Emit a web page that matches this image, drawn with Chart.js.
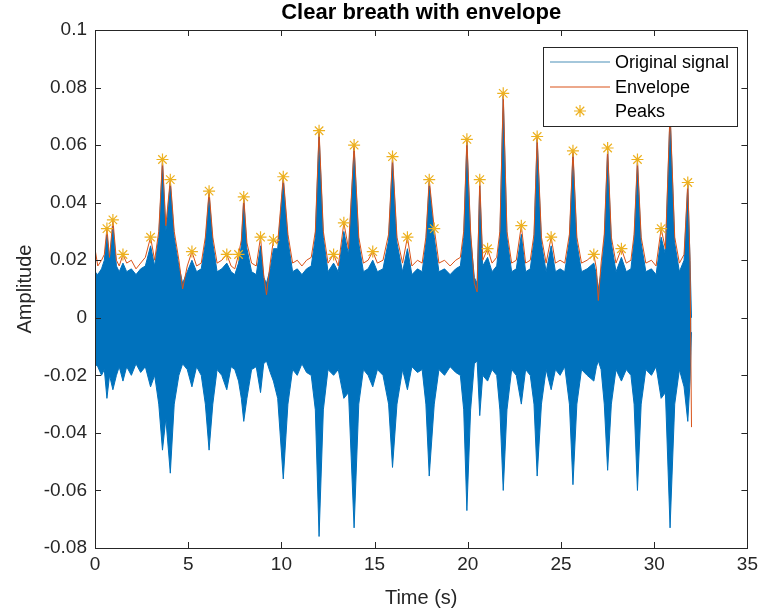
<!DOCTYPE html>
<html>
<head>
<meta charset="utf-8">
<script src="https://cdn.jsdelivr.net/npm/chart.js@4.4.1/dist/chart.umd.min.js"></script>
<style>
  html, body { margin: 0; padding: 0; background: #fff; }
  #wrap { width: 763px; height: 614px; }
</style>
</head>
<body>
<div id="wrap"><canvas id="breathChart" width="763" height="614"></canvas></div>
<script>
// sample times (s)
const sigTime = [
  0.0, 0.15, 0.35, 0.5, 0.64, 0.78, 0.96, 1.15, 1.3, 1.5,
  1.7, 1.95, 2.2, 2.45, 2.7, 2.98, 3.2, 3.42, 3.62, 3.8,
  4.04, 4.25, 4.5, 4.7, 4.95, 5.2, 5.45, 5.7, 5.92, 6.12,
  6.32, 6.55, 6.8, 7.07, 7.3, 7.5, 7.7, 7.85, 7.98, 8.15,
  8.4, 8.65, 8.88, 9.05, 9.2, 9.4, 9.57, 9.8, 10.1, 10.35,
  10.6, 10.85, 11.1, 11.35, 11.6, 11.82, 12.02, 12.25, 12.5, 12.8,
  13.05, 13.35, 13.6, 13.9, 14.15, 14.4, 14.65, 14.9, 15.15, 15.45,
  15.75, 15.96, 16.2, 16.5, 16.76, 17.0, 17.3, 17.55, 17.75, 17.93,
  18.2, 18.45, 18.75, 19.05, 19.35, 19.6, 19.78, 19.95, 20.15, 20.35,
  20.5, 20.64, 20.8, 21.06, 21.3, 21.55, 21.72, 21.9, 22.1, 22.35,
  22.6, 22.87, 23.1, 23.35, 23.55, 23.72, 23.95, 24.2, 24.47, 24.7,
  24.95, 25.2, 25.45, 25.64, 25.85, 26.1, 26.4, 26.76, 26.9, 27.0,
  27.15, 27.32, 27.5, 27.7, 27.95, 28.24, 28.5, 28.75, 28.92, 29.1,
  29.3, 29.55, 29.85, 30.1, 30.37, 30.6, 30.85, 31.1, 31.35, 31.6,
  31.8, 31.92, 32.0
];
// upper edge of the original signal
const sigTop = [
  0.016, 0.015, 0.017, 0.020, 0.029, 0.020, 0.032, 0.018, 0.016, 0.019,
  0.016, 0.017, 0.015, 0.017, 0.018, 0.025, 0.018, 0.028, 0.054, 0.030,
  0.047, 0.028, 0.018, 0.012, 0.016, 0.020, 0.016, 0.017, 0.026, 0.043,
  0.026, 0.016, 0.017, 0.019, 0.016, 0.015, 0.019, 0.025, 0.041, 0.024,
  0.016, 0.015, 0.025, 0.014, 0.012, 0.017, 0.024, 0.024, 0.048, 0.027,
  0.016, 0.017, 0.015, 0.017, 0.018, 0.028, 0.064, 0.028, 0.016, 0.019,
  0.016, 0.030, 0.022, 0.059, 0.026, 0.016, 0.017, 0.020, 0.016, 0.017,
  0.027, 0.055, 0.026, 0.016, 0.024, 0.015, 0.017, 0.016, 0.026, 0.047,
  0.028, 0.016, 0.017, 0.015, 0.017, 0.018, 0.028, 0.061, 0.028, 0.014,
  0.012, 0.046, 0.018, 0.021, 0.016, 0.018, 0.028, 0.077, 0.028, 0.016,
  0.017, 0.029, 0.016, 0.017, 0.027, 0.062, 0.026, 0.016, 0.025, 0.016,
  0.017, 0.016, 0.027, 0.057, 0.026, 0.016, 0.017, 0.019, 0.015, 0.010,
  0.016, 0.027, 0.058, 0.026, 0.016, 0.021, 0.016, 0.017, 0.027, 0.054,
  0.026, 0.016, 0.017, 0.015, 0.028, 0.022, 0.071, 0.026, 0.016, 0.020,
  0.046, 0.020, 0.000
];
// lower edge of the original signal
const sigBot = [
  -0.016, -0.017, -0.020, -0.018, -0.028, -0.020, -0.025, -0.020, -0.017, -0.022,
  -0.017, -0.020, -0.016, -0.019, -0.017, -0.024, -0.020, -0.030, -0.046, -0.035,
  -0.054, -0.030, -0.020, -0.016, -0.018, -0.024, -0.017, -0.020, -0.030, -0.046,
  -0.030, -0.018, -0.020, -0.025, -0.017, -0.018, -0.022, -0.028, -0.036, -0.028,
  -0.018, -0.017, -0.026, -0.016, -0.015, -0.019, -0.022, -0.028, -0.056, -0.030,
  -0.018, -0.020, -0.016, -0.019, -0.020, -0.032, -0.076, -0.032, -0.018, -0.020,
  -0.018, -0.028, -0.026, -0.073, -0.030, -0.018, -0.020, -0.024, -0.018, -0.020,
  -0.030, -0.052, -0.030, -0.018, -0.025, -0.017, -0.019, -0.018, -0.030, -0.055,
  -0.030, -0.018, -0.020, -0.017, -0.019, -0.020, -0.032, -0.067, -0.032, -0.016,
  -0.015, -0.034, -0.020, -0.022, -0.018, -0.020, -0.032, -0.060, -0.032, -0.018,
  -0.020, -0.030, -0.018, -0.020, -0.030, -0.055, -0.030, -0.018, -0.025, -0.018,
  -0.020, -0.017, -0.030, -0.058, -0.030, -0.018, -0.020, -0.022, -0.017, -0.015,
  -0.018, -0.030, -0.053, -0.030, -0.018, -0.022, -0.018, -0.020, -0.030, -0.060,
  -0.030, -0.018, -0.020, -0.017, -0.028, -0.026, -0.073, -0.030, -0.018, -0.024,
  -0.036, -0.022, -0.005
];
// upper envelope
const envValue = [
  0.024, 0.018, 0.020, 0.022, 0.031, 0.021, 0.034, 0.020, 0.018, 0.022,
  0.019, 0.020, 0.017, 0.019, 0.021, 0.028, 0.020, 0.030, 0.055, 0.032,
  0.048, 0.030, 0.020, 0.010, 0.018, 0.023, 0.018, 0.019, 0.028, 0.044,
  0.028, 0.019, 0.020, 0.022, 0.018, 0.017, 0.022, 0.027, 0.042, 0.026,
  0.019, 0.018, 0.028, 0.015, 0.008, 0.019, 0.027, 0.026, 0.049, 0.029,
  0.019, 0.020, 0.018, 0.020, 0.021, 0.030, 0.065, 0.030, 0.019, 0.022,
  0.018, 0.033, 0.024, 0.060, 0.028, 0.019, 0.020, 0.023, 0.019, 0.020,
  0.029, 0.056, 0.028, 0.019, 0.028, 0.018, 0.020, 0.019, 0.028, 0.048,
  0.031, 0.019, 0.020, 0.018, 0.020, 0.021, 0.030, 0.062, 0.030, 0.012,
  0.009, 0.048, 0.020, 0.024, 0.019, 0.021, 0.030, 0.078, 0.030, 0.019,
  0.020, 0.032, 0.019, 0.020, 0.029, 0.063, 0.028, 0.019, 0.028, 0.019,
  0.020, 0.019, 0.029, 0.058, 0.028, 0.019, 0.020, 0.022, 0.017, 0.006,
  0.019, 0.029, 0.059, 0.028, 0.019, 0.024, 0.019, 0.020, 0.029, 0.055,
  0.028, 0.019, 0.020, 0.018, 0.031, 0.024, 0.072, 0.028, 0.019, 0.022,
  0.047, 0.020, -0.038
];
// detected peaks
const peakTime = [0.64, 0.96, 1.5, 2.98, 3.62, 4.04, 5.2, 6.12, 7.07, 7.7,
  7.98, 8.88, 9.57, 10.1, 12.02, 12.8, 13.35, 13.9, 14.9, 15.96,
  16.76, 17.93, 18.2, 19.95, 20.64, 21.06, 21.9, 22.87, 23.72, 24.47,
  25.64, 26.76, 27.5, 28.24, 29.1, 30.37, 30.85, 31.8];
const peakValue = [0.031, 0.034, 0.022, 0.028, 0.055, 0.048, 0.023, 0.044, 0.022, 0.022,
  0.042, 0.028, 0.027, 0.049, 0.065, 0.022, 0.033, 0.060, 0.023, 0.056,
  0.028, 0.048, 0.031, 0.062, 0.048, 0.024, 0.078, 0.032, 0.063, 0.028,
  0.058, 0.022, 0.059, 0.024, 0.055, 0.031, 0.072, 0.047];

const xTicks = [0, 5, 10, 15, 20, 25, 30, 35];
const yTicks = [-0.08, -0.06, -0.04, -0.02, 0, 0.02, 0.04, 0.06, 0.08, 0.1];
const legendLabels = ['Original signal', 'Envelope', 'Peaks'];

const BLUE = '#0072BD';
const ORANGE = '#D95319';
const YELLOW = '#EDB120';
const AXIS = '#262626';
const FONT = '"Liberation Sans", Arial, Helvetica, sans-serif';

const toXY = (xs, ys) => xs.map((x, i) => ({ x: x, y: ys[i] }));

// MATLAB style box with inward ticks on all four sides, title and legend
const boxPlugin = {
  id: 'matlabBox',
  afterDatasetsDraw(chart) {
    const { ctx, chartArea: a, scales } = chart;
    ctx.save();
    ctx.strokeStyle = AXIS;
    ctx.lineWidth = 1;
    ctx.beginPath();
    xTicks.forEach(v => {
      const px = Math.round(scales.x.getPixelForValue(v)) + 0.5;
      ctx.moveTo(px, a.bottom); ctx.lineTo(px, a.bottom - 6);
      ctx.moveTo(px, a.top); ctx.lineTo(px, a.top + 6);
    });
    yTicks.forEach(v => {
      const py = Math.round(scales.y.getPixelForValue(v)) + 0.5;
      ctx.moveTo(a.left, py); ctx.lineTo(a.left + 6, py);
      ctx.moveTo(a.right, py); ctx.lineTo(a.right - 6, py);
    });
    ctx.stroke();
    ctx.strokeRect(Math.round(a.left) + 0.5, Math.round(a.top) + 0.5,
      Math.round(a.right - a.left), Math.round(a.bottom - a.top));
    ctx.restore();
  },
  afterDraw(chart) {
    const { ctx, chartArea: a } = chart;
    ctx.save();
    // title
    ctx.fillStyle = '#000';
    ctx.font = 'bold 22px ' + FONT;
    ctx.textAlign = 'center';
    ctx.textBaseline = 'middle';
    ctx.fillText('Clear breath with envelope', (a.left + a.right) / 2, 13);

    // legend box
    const lx = 543.5, ly = 47.5, lw = 194, lh = 79;
    ctx.fillStyle = '#fff';
    ctx.fillRect(lx, ly, lw, lh);
    ctx.strokeStyle = AXIS;
    ctx.lineWidth = 1;
    ctx.strokeRect(lx, ly, lw, lh);
    const rows = [62, 87, 111];
    ctx.lineWidth = 1.2;
    ctx.strokeStyle = '#4a90b8';
    ctx.beginPath(); ctx.moveTo(550, rows[0]); ctx.lineTo(610, rows[0]); ctx.stroke();
    ctx.strokeStyle = ORANGE;
    ctx.beginPath(); ctx.moveTo(550, rows[1]); ctx.lineTo(610, rows[1]); ctx.stroke();
    ctx.strokeStyle = YELLOW;
    ctx.beginPath();
    const r = 6;
    for (let k = 0; k < 4; k++) {
      const ang = k * Math.PI / 4;
      ctx.moveTo(580 - r * Math.cos(ang), rows[2] - r * Math.sin(ang));
      ctx.lineTo(580 + r * Math.cos(ang), rows[2] + r * Math.sin(ang));
    }
    ctx.stroke();
    ctx.fillStyle = '#000';
    ctx.font = '18px ' + FONT;
    ctx.textAlign = 'left';
    legendLabels.forEach((t, i) => ctx.fillText(t, 615, rows[i] + 1));
    ctx.restore();
  }
};

const ctx = document.getElementById('breathChart').getContext('2d');
const breathChart = new Chart(ctx, {
  type: 'line',
  data: {
    datasets: [
      {
        label: 'Peaks',
        data: toXY(peakTime, peakValue),
        showLine: false,
        pointStyle: 'star',
        pointRadius: 6,
        pointBorderWidth: 1.2,
        pointBorderColor: YELLOW,
        pointBackgroundColor: YELLOW,
        order: 0
      },
      {
        label: 'Envelope',
        data: toXY(sigTime, envValue),
        borderColor: ORANGE,
        borderWidth: 1,
        pointRadius: 0,
        fill: false,
        tension: 0,
        order: 1
      },
      {
        label: 'Original signal',
        data: toXY(sigTime, sigTop),
        borderColor: BLUE,
        backgroundColor: BLUE,
        borderWidth: 1,
        pointRadius: 0,
        fill: '+1',
        tension: 0,
        order: 2
      },
      {
        label: 'Original signal (lower)',
        data: toXY(sigTime, sigBot),
        borderColor: BLUE,
        borderWidth: 1,
        pointRadius: 0,
        fill: false,
        tension: 0,
        order: 3
      }
    ]
  },
  options: {
    responsive: false,
    animation: false,
    layout: { padding: { top: 30, right: 10, left: 0, bottom: 0 } },
    plugins: {
      legend: { display: false },
      title: { display: false },
      tooltip: { enabled: false }
    },
    scales: {
      x: {
        type: 'linear',
        min: 0,
        max: 35,
        afterFit: s => { s.height = 66; },
        afterBuildTicks: s => { s.ticks = xTicks.map(v => ({ value: v })); },
        grid: { display: false, drawTicks: false },
        border: { display: false },
        ticks: { color: AXIS, font: { family: FONT, size: 19 }, padding: 5, maxRotation: 0 },
        title: { display: true, text: 'Time (s)', color: AXIS, font: { family: FONT, size: 20 }, padding: { top: 0, bottom: 4 } }
      },
      y: {
        type: 'linear',
        min: -0.08,
        max: 0.1,
        afterFit: s => { s.width = 95; },
        afterBuildTicks: s => { s.ticks = yTicks.map(v => ({ value: v })); },
        grid: { display: false, drawTicks: false },
        border: { display: false },
        ticks: {
          color: AXIS,
          font: { family: FONT, size: 19 },
          padding: 8,
          callback: v => String(+v.toFixed(2))
        },
        title: { display: true, text: 'Amplitude', color: AXIS, font: { family: FONT, size: 20 }, padding: { top: 13, bottom: 0 } }
      }
    }
  },
  plugins: [boxPlugin]
});
</script>
</body>
</html>
